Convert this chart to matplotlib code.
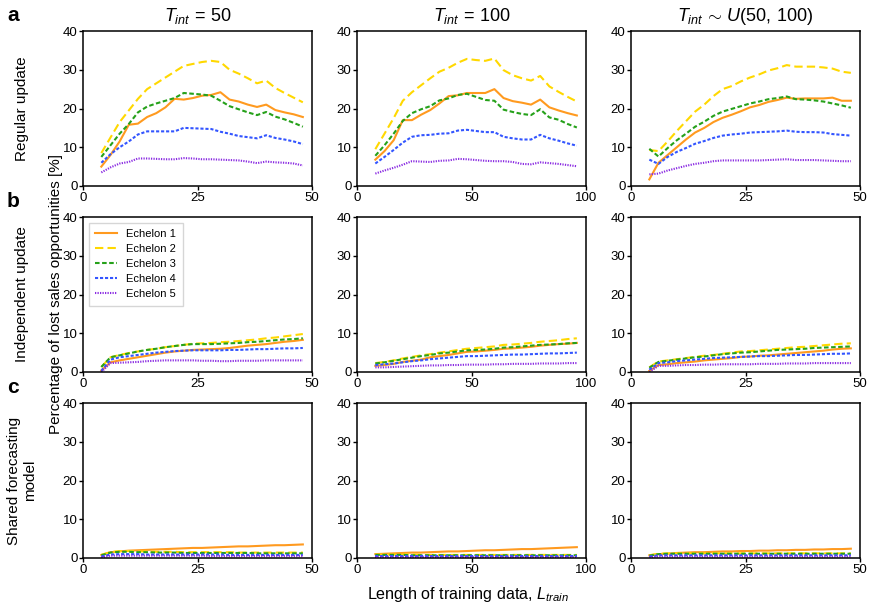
import matplotlib
matplotlib.use('Agg')
import matplotlib.pyplot as plt
import numpy as np

plt.rcParams['font.family'] = ['Liberation Sans', 'DejaVu Sans']
plt.rcParams['mathtext.fontset'] = 'custom'
plt.rcParams['mathtext.rm'] = 'Liberation Sans'
plt.rcParams['mathtext.it'] = 'Liberation Sans:italic'

# x positions (length of training data)
x_50 = list(range(4, 49, 2))
x_100 = list(range(8, 97, 4))
x_u = list(range(4, 49, 2))

labels = ['Echelon 1', 'Echelon 2', 'Echelon 3', 'Echelon 4', 'Echelon 5']
col_titles = ['$T_{int}\\,=\\,50$', '$T_{int}\\,=\\,100$', '$T_{int}\\,\\sim\\,U(50,\\,100)$']
row_titles = ['Regular update', 'Independent update', 'Shared forecasting\nmodel']
panel_letters = ['a', 'b', 'c']

# ---- a: regular update ----
reg_50 = [
    [5.0, 8.0, 11.5, 15.8, 16.1, 17.8, 18.8, 20.3, 22.5, 22.3, 22.7, 23.3, 23.5, 24.2, 22.3, 21.8, 21.0, 20.4, 21.0, 19.6, 19.0, 18.5, 17.8],
    [8.5, 12.5, 16.5, 19.5, 22.5, 25.0, 26.5, 28.0, 29.5, 31.0, 31.5, 32.0, 32.3, 32.0, 30.0, 29.0, 27.8, 26.5, 27.2, 25.3, 24.0, 22.8, 21.6],
    [7.5, 10.5, 13.5, 16.0, 19.0, 20.5, 21.3, 22.0, 22.7, 24.0, 23.8, 23.6, 23.3, 22.0, 20.6, 19.8, 19.0, 18.3, 19.1, 17.9, 17.2, 16.3, 15.3],
    [6.0, 8.2, 10.0, 11.5, 13.3, 14.1, 14.1, 14.1, 14.1, 15.0, 14.9, 14.8, 14.7, 14.0, 13.5, 12.9, 12.6, 12.3, 13.1, 12.4, 12.0, 11.5, 10.8],
    [3.5, 4.8, 5.8, 6.2, 7.1, 7.1, 7.0, 6.9, 6.9, 7.2, 7.1, 6.9, 6.9, 6.8, 6.7, 6.6, 6.3, 5.9, 6.3, 6.1, 6.0, 5.8, 5.3],
]
reg_100 = [
    [6.8, 9.0, 11.8, 17.0, 17.0, 18.4, 19.6, 21.3, 23.2, 23.4, 24.0, 24.0, 24.0, 25.0, 22.7, 21.9, 21.5, 21.0, 22.3, 20.3, 19.5, 18.8, 18.2],
    [9.5, 13.5, 17.5, 22.0, 24.2, 26.0, 27.8, 29.5, 30.5, 31.8, 32.8, 32.5, 32.3, 32.9, 29.9, 28.6, 27.8, 27.2, 28.4, 25.7, 24.3, 23.0, 21.8],
    [7.8, 10.5, 13.5, 16.8, 18.8, 19.8, 20.6, 22.1, 22.6, 23.5, 23.8, 23.0, 22.2, 22.0, 19.7, 19.1, 18.6, 18.3, 19.8, 17.7, 17.1, 16.0, 15.1],
    [5.8, 7.5, 9.3, 11.2, 12.7, 13.1, 13.2, 13.5, 13.6, 14.3, 14.5, 14.2, 13.9, 13.9, 12.7, 12.3, 12.0, 12.0, 13.2, 12.3, 11.7, 11.0, 10.4],
    [3.2, 4.0, 4.7, 5.5, 6.4, 6.3, 6.2, 6.5, 6.6, 7.0, 6.9, 6.7, 6.5, 6.4, 6.4, 6.2, 5.7, 5.6, 6.1, 5.9, 5.7, 5.4, 5.1],
]
reg_u = [
    [1.7, 6.0, 8.0, 10.0, 12.0, 13.8, 15.0, 16.5, 17.6, 18.4, 19.3, 20.3, 20.9, 21.7, 22.2, 22.8, 22.5, 22.6, 22.6, 22.6, 22.8, 22.0, 22.0],
    [9.3, 9.0, 11.5, 14.2, 16.7, 19.2, 21.0, 23.2, 25.0, 25.8, 27.0, 28.0, 28.8, 29.8, 30.4, 31.2, 30.8, 30.8, 30.8, 30.6, 30.3, 29.5, 29.2],
    [9.6, 7.6, 9.8, 11.8, 13.5, 15.3, 16.6, 18.1, 19.2, 19.9, 20.6, 21.3, 21.8, 22.4, 22.7, 23.1, 22.4, 22.3, 22.1, 21.8, 21.3, 20.8, 20.2],
    [6.8, 5.7, 7.5, 8.8, 9.8, 10.9, 11.6, 12.4, 13.0, 13.3, 13.5, 13.8, 13.9, 14.0, 14.1, 14.3, 14.0, 13.9, 13.9, 13.8, 13.4, 13.2, 13.0],
    [3.0, 3.2, 4.0, 4.6, 5.2, 5.7, 6.0, 6.4, 6.6, 6.6, 6.6, 6.6, 6.6, 6.7, 6.8, 6.9, 6.7, 6.7, 6.7, 6.6, 6.5, 6.4, 6.4],
]

# ---- b: independent update ----
ind_50 = [
    [0.4, 2.5, 3.0, 3.4, 3.8, 4.2, 4.6, 5.0, 5.3, 5.5, 5.7, 5.8, 5.9, 6.0, 6.2, 6.5, 6.8, 7.0, 7.2, 7.5, 7.8, 8.0, 8.3],
    [1.3, 3.8, 4.4, 4.9, 5.3, 5.7, 6.0, 6.4, 6.7, 7.0, 7.3, 7.4, 7.5, 7.7, 7.8, 8.0, 8.2, 8.4, 8.7, 8.9, 9.2, 9.5, 9.8],
    [1.3, 3.8, 4.3, 4.8, 5.3, 5.7, 6.0, 6.4, 6.7, 7.0, 7.2, 7.2, 7.2, 7.3, 7.4, 7.5, 7.7, 7.8, 8.0, 8.2, 8.4, 8.5, 8.7],
    [0.3, 3.2, 3.8, 4.1, 4.4, 4.7, 5.0, 5.2, 5.4, 5.5, 5.6, 5.6, 5.6, 5.6, 5.7, 5.7, 5.8, 5.9, 5.9, 6.0, 6.1, 6.1, 6.2],
    [0.0, 2.3, 2.4, 2.5, 2.6, 2.8, 2.9, 3.0, 3.0, 3.0, 3.0, 2.9, 2.9, 2.8, 2.8, 2.9, 2.9, 2.9, 3.0, 3.0, 3.0, 3.0, 3.0],
]
ind_100 = [
    [1.6, 1.8, 2.1, 2.6, 2.9, 3.2, 3.8, 4.1, 4.4, 4.8, 5.2, 5.3, 5.5, 5.7, 6.0, 6.1, 6.3, 6.5, 6.8, 7.0, 7.2, 7.3, 7.5],
    [2.3, 2.6, 3.0, 3.5, 3.9, 4.3, 4.6, 5.0, 5.3, 5.7, 6.0, 6.2, 6.4, 6.6, 7.0, 7.1, 7.3, 7.5, 7.8, 8.0, 8.2, 8.5, 8.7],
    [2.2, 2.5, 2.9, 3.3, 3.7, 4.1, 4.4, 4.8, 5.0, 5.3, 5.6, 5.7, 5.8, 6.0, 6.3, 6.4, 6.6, 6.8, 7.0, 7.1, 7.2, 7.4, 7.5],
    [1.8, 2.0, 2.2, 2.5, 2.8, 3.0, 3.3, 3.5, 3.7, 3.9, 4.1, 4.1, 4.2, 4.3, 4.4, 4.5, 4.5, 4.6, 4.7, 4.8, 4.8, 4.9, 5.0],
    [1.2, 1.2, 1.3, 1.4, 1.5, 1.6, 1.7, 1.7, 1.8, 1.8, 1.9, 1.9, 1.9, 2.0, 2.0, 2.1, 2.1, 2.1, 2.2, 2.2, 2.2, 2.3, 2.3],
]
ind_u = [
    [0.3, 1.8, 2.0, 2.3, 2.5, 2.7, 3.0, 3.2, 3.4, 3.6, 3.9, 4.0, 4.2, 4.3, 4.5, 4.7, 4.9, 5.1, 5.3, 5.5, 5.8, 6.0, 6.1],
    [1.2, 2.7, 3.0, 3.3, 3.6, 3.9, 4.2, 4.4, 4.7, 5.0, 5.3, 5.4, 5.6, 5.8, 6.0, 6.2, 6.4, 6.5, 6.7, 6.9, 7.1, 7.3, 7.4],
    [1.1, 2.6, 2.9, 3.2, 3.5, 3.8, 4.0, 4.3, 4.6, 4.8, 5.0, 5.1, 5.3, 5.5, 5.7, 5.8, 5.9, 6.0, 6.2, 6.3, 6.4, 6.5, 6.6],
    [0.6, 2.3, 2.5, 2.8, 3.0, 3.2, 3.4, 3.6, 3.7, 3.8, 3.9, 4.0, 4.1, 4.1, 4.2, 4.3, 4.4, 4.4, 4.5, 4.6, 4.7, 4.7, 4.8],
    [0.0, 1.6, 1.6, 1.7, 1.8, 1.8, 1.9, 1.9, 2.0, 2.0, 2.0, 2.0, 2.1, 2.1, 2.1, 2.2, 2.2, 2.2, 2.3, 2.3, 2.3, 2.3, 2.3],
]

# ---- c: shared forecasting model ----
shr_50 = [
    [0.8, 1.5, 1.7, 1.9, 2.0, 2.1, 2.2, 2.3, 2.4, 2.5, 2.6, 2.6, 2.7, 2.8, 2.9, 3.0, 3.0, 3.1, 3.2, 3.3, 3.3, 3.4, 3.5],
    [0.8, 1.5, 1.8, 1.8, 1.7, 1.7, 1.6, 1.6, 1.6, 1.5, 1.5, 1.5, 1.5, 1.5, 1.5, 1.4, 1.4, 1.4, 1.4, 1.4, 1.4, 1.4, 1.4],
    [0.7, 1.4, 1.6, 1.6, 1.5, 1.5, 1.4, 1.4, 1.4, 1.3, 1.3, 1.3, 1.3, 1.3, 1.3, 1.3, 1.3, 1.2, 1.2, 1.2, 1.2, 1.2, 1.2],
    [0.4, 0.9, 1.0, 1.0, 1.0, 0.9, 0.9, 0.9, 0.9, 0.9, 0.9, 0.9, 0.9, 0.9, 0.8, 0.8, 0.8, 0.8, 0.8, 0.8, 0.8, 0.8, 0.8],
    [0.2, 0.6, 0.6, 0.6, 0.6, 0.6, 0.6, 0.6, 0.6, 0.6, 0.6, 0.6, 0.5, 0.5, 0.5, 0.5, 0.5, 0.5, 0.5, 0.5, 0.5, 0.5, 0.5],
]
shr_100 = [
    [1.0, 1.1, 1.2, 1.3, 1.4, 1.4, 1.5, 1.6, 1.7, 1.7, 1.8, 1.9, 2.0, 2.0, 2.1, 2.2, 2.3, 2.3, 2.4, 2.5, 2.6, 2.7, 2.8],
    [0.9, 0.9, 0.9, 0.9, 0.9, 0.8, 0.8, 0.8, 0.8, 0.8, 0.8, 0.8, 0.8, 0.8, 0.8, 0.8, 0.8, 0.8, 0.8, 0.8, 0.8, 0.8, 0.8],
    [0.8, 0.8, 0.8, 0.8, 0.7, 0.7, 0.7, 0.7, 0.7, 0.7, 0.7, 0.7, 0.7, 0.7, 0.7, 0.7, 0.7, 0.7, 0.7, 0.7, 0.7, 0.7, 0.7],
    [0.5, 0.5, 0.5, 0.5, 0.5, 0.5, 0.5, 0.5, 0.5, 0.5, 0.5, 0.5, 0.5, 0.5, 0.5, 0.5, 0.5, 0.5, 0.5, 0.5, 0.5, 0.5, 0.5],
    [0.3, 0.3, 0.3, 0.3, 0.3, 0.3, 0.3, 0.3, 0.3, 0.3, 0.3, 0.3, 0.3, 0.3, 0.3, 0.3, 0.3, 0.3, 0.3, 0.3, 0.3, 0.3, 0.3],
]
shr_u = [
    [0.7, 1.0, 1.1, 1.3, 1.4, 1.5, 1.5, 1.6, 1.7, 1.7, 1.8, 1.8, 1.9, 1.9, 2.0, 2.0, 2.1, 2.1, 2.2, 2.2, 2.3, 2.3, 2.4],
    [0.7, 1.1, 1.2, 1.2, 1.2, 1.2, 1.2, 1.2, 1.2, 1.2, 1.2, 1.2, 1.2, 1.2, 1.2, 1.2, 1.2, 1.2, 1.2, 1.2, 1.2, 1.2, 1.2],
    [0.6, 1.0, 1.1, 1.1, 1.1, 1.1, 1.1, 1.1, 1.1, 1.1, 1.1, 1.1, 1.1, 1.1, 1.1, 1.1, 1.1, 1.1, 1.1, 1.1, 1.1, 1.1, 1.1],
    [0.4, 0.7, 0.7, 0.7, 0.7, 0.7, 0.7, 0.7, 0.7, 0.7, 0.7, 0.7, 0.7, 0.7, 0.7, 0.7, 0.7, 0.7, 0.7, 0.7, 0.7, 0.7, 0.7],
    [0.2, 0.4, 0.4, 0.4, 0.4, 0.4, 0.4, 0.4, 0.4, 0.4, 0.4, 0.4, 0.4, 0.4, 0.4, 0.4, 0.4, 0.4, 0.4, 0.4, 0.4, 0.4, 0.4],
]

grid = [
    [(x_50, reg_50), (x_100, reg_100), (x_u, reg_u)],
    [(x_50, ind_50), (x_100, ind_100), (x_u, ind_u)],
    [(x_50, shr_50), (x_100, shr_100), (x_u, shr_u)],
]
xmax = [50, 100, 50]
xticks = [[0, 25, 50], [0, 50, 100], [0, 25, 50]]

colors = ['#ff9a1f', '#ffd800', '#26a11a', '#3355ff', '#8a2be2']
dashes = [None, (4, 2), (2.2, 1.2), (1.5, 0.9), (0.6, 0.6)]

fig = plt.figure(figsize=(8.72, 6.10), dpi=100)
W, H = 872., 610.
lefts = [83, 357, 631]
tops = [31, 217, 403]
aw, ah = 229, 155

for r in range(3):
    for c in range(3):
        ax = fig.add_axes([lefts[c] / W, 1 - (tops[r] + ah) / H, aw / W, ah / H])
        xs, series = grid[r][c]
        for k in range(5):
            ln, = ax.plot(xs, series[k], color=colors[k], lw=1.5, label=labels[k])
            if dashes[k] is not None:
                ln.set_dashes(dashes[k])
        ax.set_xlim(0, xmax[c])
        ax.set_ylim(0, 40)
        ax.set_xticks(xticks[c])
        ax.set_yticks([0, 10, 20, 30, 40])
        ax.tick_params(direction='out', length=3, width=1, labelsize=9.5, pad=1)
        for s in ax.spines.values():
            s.set_linewidth(1.1)
        if r == 0:
            ax.set_title(col_titles[c], fontsize=13, pad=7)
        if r == 1 and c == 0:
            ax.legend(loc='upper left', fontsize=8, frameon=True, fancybox=False,
                      edgecolor='#cccccc', handlelength=2.0, borderpad=0.6,
                      labelspacing=0.45, handletextpad=0.8)

for r in range(3):
    yc = 1 - (tops[r] + ah / 2) / H
    fig.text(22 / W, yc, row_titles[r], rotation=90, ha='center', va='center',
             fontsize=11, linespacing=1.1)
    fig.text(13 / W, 1 - (tops[r] - 15.5) / H, panel_letters[r], fontsize=15,
             fontweight='bold', ha='center', va='center')

fig.text(56 / W, 1 - 294 / H, 'Percentage of lost sales opportunities [%]',
         rotation=90, ha='center', va='center', fontsize=11)
fig.text(468 / W, 1 - 594 / H, 'Length of training data, $L_{train}$',
         ha='center', va='center', fontsize=11.6)

fig.savefig('out.png', dpi=100)
